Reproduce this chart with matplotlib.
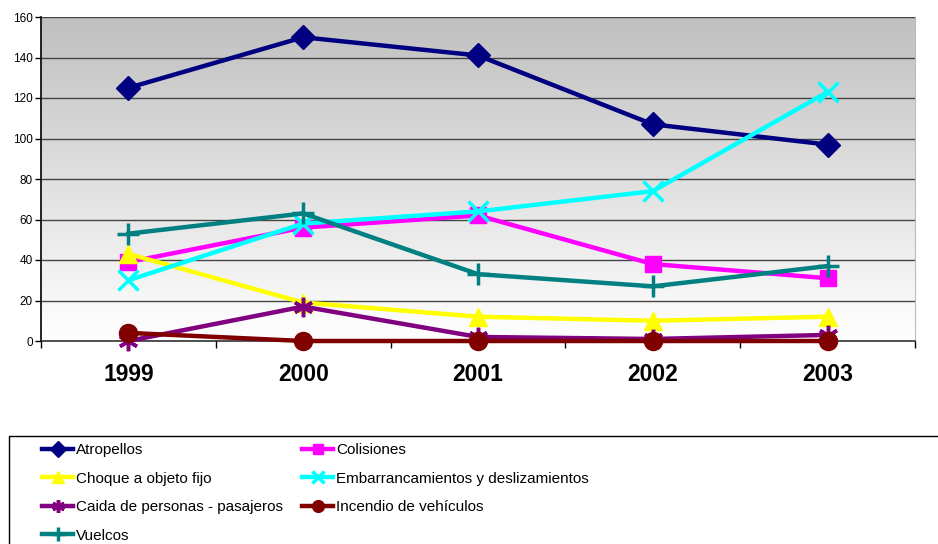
import numpy as np
import matplotlib
matplotlib.use('Agg')
import matplotlib.pyplot as plt
from matplotlib.patches import Rectangle

plt.rcParams['font.family'] = ['Liberation Sans', 'DejaVu Sans']

# Data
years = ["1999", "2000", "2001", "2002", "2003"]
atropellos = [125, 150, 141, 107, 97]
colisiones = [39, 56, 62, 38, 31]
choque = [43, 19, 12, 10, 12]
embarrancamientos = [30, 58, 64, 74, 123]
caida = [0, 17, 2, 1, 3]
incendio = [4, 0, 0, 0, 0]
vuelcos = [53, 63, 33, 27, 37]

series = [
    ("Atropellos", atropellos, '#000080', 'D', 12),
    ("Colisiones", colisiones, '#FF00FF', 's', 12),
    ("Choque a objeto fijo", choque, '#FFFF00', '^', 13),
    ("Embarrancamientos y deslizamientos", embarrancamientos, '#00FFFF', 'x', 14),
    ("Caida de personas - pasajeros", caida, '#800080', (6, 2, 0), 14),
    ("Incendio de vehículos", incendio, '#800000', 'o', 13),
    ("Vuelcos", vuelcos, '#008080', '+', 16),
]

fig = plt.figure(figsize=(9.38, 5.44), dpi=100)
W, H = 938, 544
ax = fig.add_axes([41 / W, (H - 341) / H, 874 / W, 324 / H])

# gradient background (gray top -> white bottom)
grad = np.linspace(0, 1, 256).reshape(-1, 1)
cmap = matplotlib.colors.LinearSegmentedColormap.from_list('bg', ['#FFFFFF', '#C0C0C0'])
ax.imshow(grad, extent=[0, 1, 0, 1], transform=ax.transAxes, cmap=cmap,
          origin='lower', aspect='auto', zorder=0)

x = np.arange(len(years))
lines = {}
for name, vals, color, marker, ms in series:
    mew = 2.5 if marker in ('x', '+') or isinstance(marker, tuple) else 1
    ln, = ax.plot(x, vals, color=color, lw=3.2, marker=marker, markersize=ms,
                  markeredgewidth=mew, markeredgecolor=color, markerfacecolor=color,
                  clip_on=False, zorder=3, label=name)
    lines[name] = ln

ax.set_xlim(-0.5, 4.5)
ax.set_ylim(0, 160)
ax.set_yticks(range(0, 161, 20))
ax.set_yticklabels([str(v) for v in range(0, 161, 20)], fontsize=8.5)
ax.yaxis.grid(True, color='#444444', lw=1)
ax.set_axisbelow(False)
for gl in ax.get_ygridlines():
    gl.set_zorder(1)
ax.tick_params(axis='y', length=4, width=1, pad=2, color='black')

ax.set_xticks(np.arange(-0.5, 4.6, 1), minor=False)
ax.set_xticklabels([])
ax.set_xticks(x, minor=True)
ax.set_xticklabels(years, minor=True, fontsize=16.5, fontweight='bold')
ax.tick_params(axis='x', which='major', length=5, width=1)
ax.tick_params(axis='x', which='minor', length=0, pad=16)

ax.spines['top'].set_visible(False)
ax.spines['right'].set_color('#BBBBBB')
ax.spines['left'].set_linewidth(1.2)
ax.spines['bottom'].set_linewidth(1.2)
ax.spines['bottom'].set_color('#333333')

# legend box
fig.patches.append(Rectangle((9 / W, -0.05), 1.0, (H - 436) / H + 0.05,
                             transform=fig.transFigure, fill=False,
                             edgecolor='black', lw=1, zorder=0))
col1 = ["Atropellos", "Choque a objeto fijo", "Caida de personas - pasajeros", "Vuelcos"]
col2 = ["Colisiones", "Embarrancamientos y deslizamientos", "Incendio de vehículos"]
for names, x0 in [(col1, 42), (col2, 302)]:
    fig.legend([lines[n] for n in names], names, frameon=False,
               loc='upper left', bbox_to_anchor=(x0 / W, (H - 443) / H),
               borderpad=0, borderaxespad=0,
               handlelength=2.05, handletextpad=0.2, labelspacing=0.95,
               markerscale=0.65, prop={'size': 11})

fig.savefig("out.png", dpi=100)
